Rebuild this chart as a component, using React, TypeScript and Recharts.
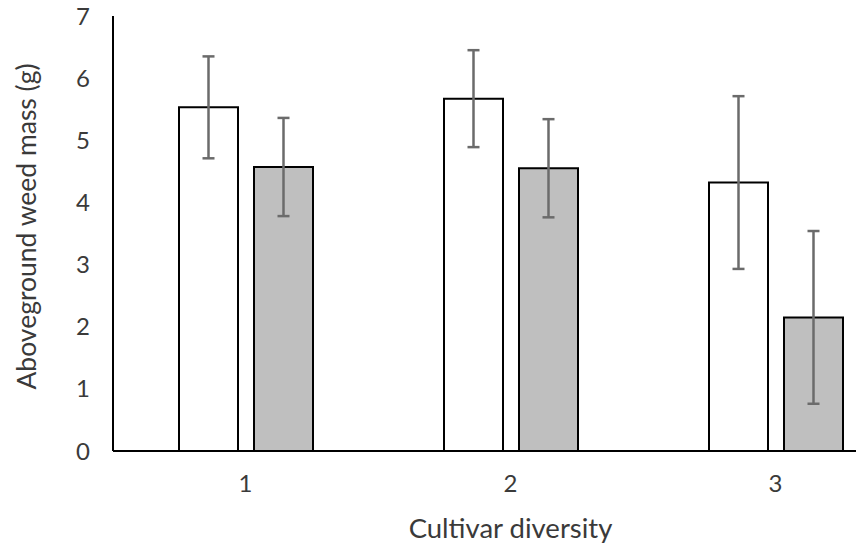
import React from 'react';
import { BarChart, Bar, XAxis, YAxis, ErrorBar } from 'recharts';

const categories = ['1', '2', '3'];
const whiteValues = [5.53, 5.67, 4.32];
const whiteErrors = [0.82, 0.78, 1.39];
const grayValues = [4.57, 4.55, 2.15];
const grayErrors = [0.79, 0.79, 1.39];
const yTicks = [0, 1, 2, 3, 4, 5, 6, 7];

const data = categories.map((c, i) => ({
  name: c,
  white: whiteValues[i],
  whiteErr: whiteErrors[i],
  gray: grayValues[i],
  grayErr: grayErrors[i],
}));

const FONT = 'Lato, "Open Sans", sans-serif';
const TEXT = '#3a3a3a';

export default function App() {
  return (
    <div style={{ position: 'absolute', left: 0, top: 0, width: 856, height: 544, overflow: 'hidden', background: '#fff' }}>
      <BarChart
        width={920}
        height={544}
        data={data}
        margin={{ top: 16, right: 12, bottom: 0, left: 0 }}
        barSize={59}
        barGap={16}
      >
        <XAxis
          dataKey="name"
          height={93}
          axisLine={{ stroke: '#000', strokeWidth: 2 }}
          tickLine={false}
          tickMargin={18}
          tick={{ fill: TEXT, fontSize: 24, fontFamily: FONT }}
          label={{ value: 'Cultivar diversity', position: 'insideBottom', offset: 6, fill: TEXT, fontSize: 27.5, fontFamily: FONT }}
        />
        <YAxis
          width={113}
          domain={[0, 7]}
          ticks={yTicks}
          interval={0}
          axisLine={{ stroke: '#000', strokeWidth: 2 }}
          tickLine={false}
          tickMargin={17}
          tick={{ fill: TEXT, fontSize: 24, fontFamily: FONT }}
          label={{ value: 'Aboveground weed mass (g)', angle: -90, position: 'center', dx: -30, dy: -7, fill: TEXT, fontSize: 26.5, fontFamily: FONT }}
        />
        <Bar dataKey="white" fill="#ffffff" stroke="#000" strokeWidth={2} isAnimationActive={false}>
          <ErrorBar dataKey="whiteErr" width={6} stroke="#6b6b6b" strokeWidth={2.5} />
        </Bar>
        <Bar dataKey="gray" fill="#bfbfbf" stroke="#000" strokeWidth={2} isAnimationActive={false}>
          <ErrorBar dataKey="grayErr" width={6} stroke="#6b6b6b" strokeWidth={2.5} />
        </Bar>
      </BarChart>
    </div>
  );
}
